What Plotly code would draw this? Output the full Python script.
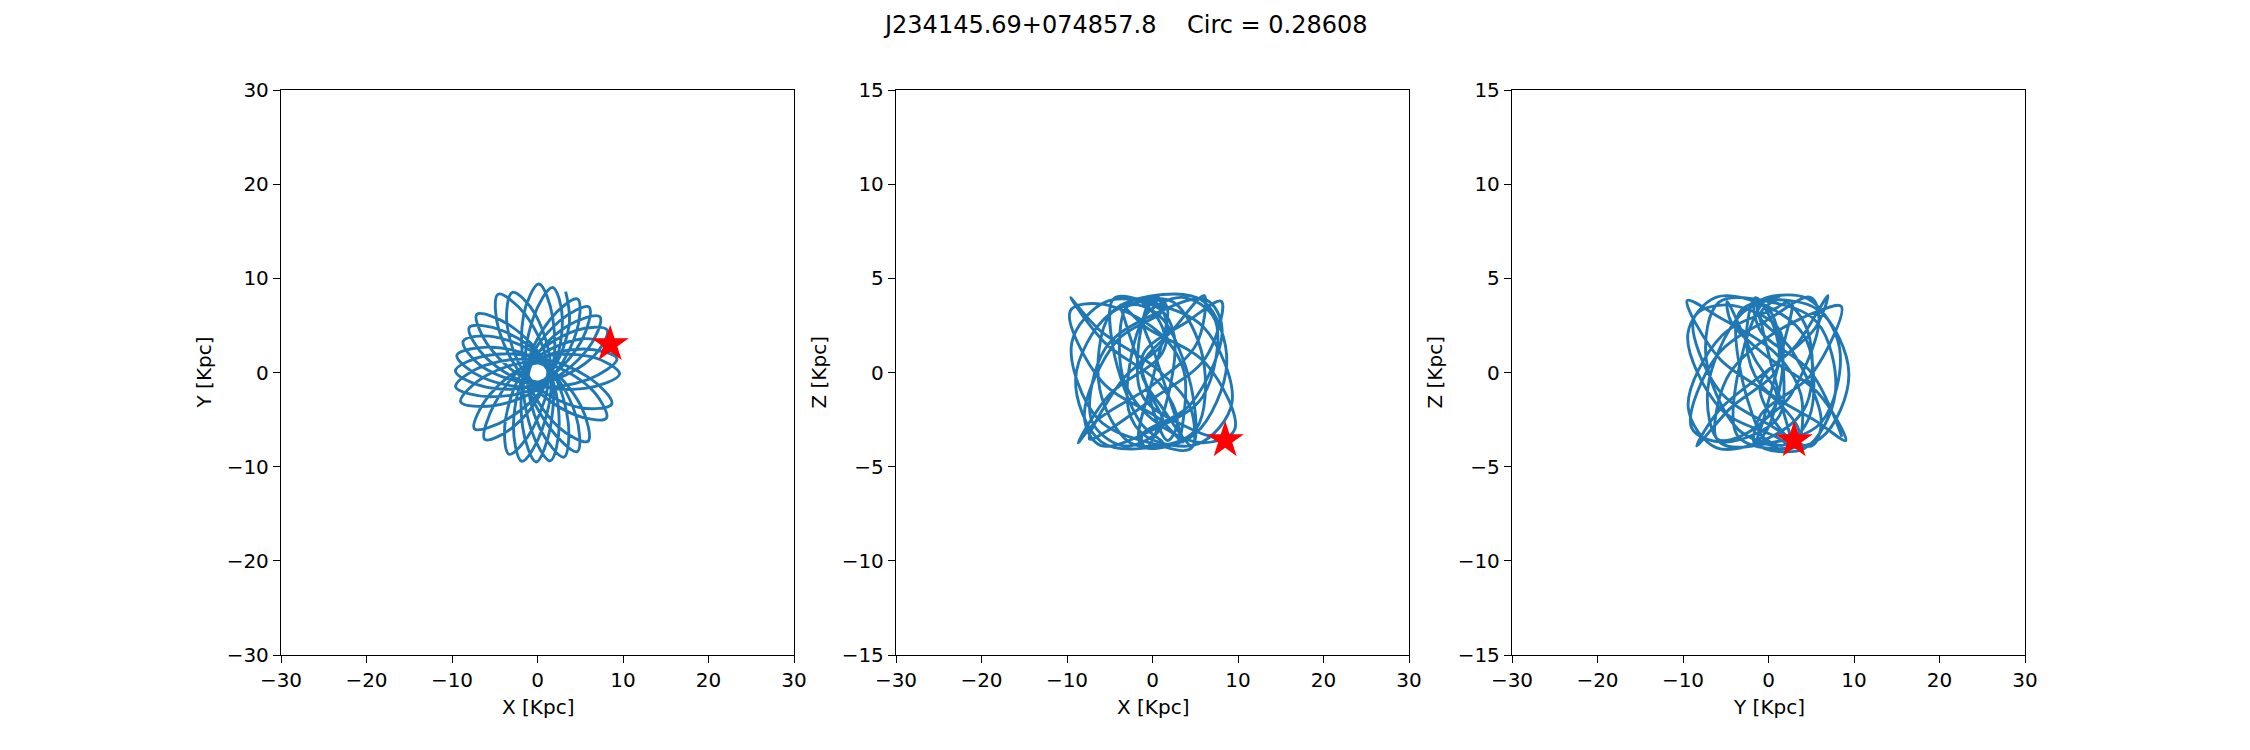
import plotly.graph_objects as go

# Orbit samples (kpc)
x_kpc = [8.5, 5.08, -0.97, -1.75,
         -0.16, 1.53, 1.16, -5.03,
         -8.69, -6.37, 0.24, 5.12,
         6.04, 2.54, -1.29, 1.33,
         4.66, 4.45, 0.48, -6.16,
         -9.58, -5.53, 0.90, 2.91,
         1.76, -0.50, -1.10, 4.09,
         8.06, 6.18, -0.07, -5.62,
         -7.38, -3.44, 1.35, -0.33,
         -2.93, -3.56, -0.65, 5.54,
         9.60, 6.28, -0.73, -3.73,
         -3.33, -0.51, 1.16, -3.27,
         -7.10, -5.53, -0.11, 6.23,
         8.14, 4.45, -1.26, -0.74,
         1.48, 2.54, 0.79, -5.26,
         -9.43, -6.37, 0.53, 4.53,
         4.69, 1.53, -1.20, 2.46,
         5.91, 5.08, 0.28, -5.99,
         -8.99, -5.00, 1.13, 1.78,
         0.16, -1.63, -0.91, 4.95,
         8.69, 5.98, -0.31, -4.95,
         -6.17, -2.62, 1.19, -1.42,
         -4.61, -4.52, -0.57, 5.96,
         9.29, 5.35, -0.76, -2.81,
         -1.83, 0.53, 1.28, -4.16,
         -7.97, -6.09, 0.08, 5.89,
         7.30, 3.44, -0.96, 0.31,
         3.10, 3.56, 0.76, -5.93,
         -9.60, -5.89, 0.61, 3.67,
         3.29]

y_kpc = [3.0, 3.56, 0.71, -5.74,
         -9.50, -5.70, 0.78, 3.79,
         3.33, 0.56, -0.97, 3.32,
         6.95, 5.44, 0.14, -5.75,
         -8.40, -4.45, 0.99, 0.76,
         -1.51, -2.58, -0.93, 5.70,
         9.03, 5.78, -0.49, -4.39,
         -4.84, -1.66, 1.00, -2.39,
         -5.98, -4.91, -0.39, 6.29,
         8.51, 5.08, -0.89, -1.69,
         -0.16, 1.68, 1.08, -4.95,
         -8.69, -5.88, 0.29, 5.03,
         6.17, 2.58, -1.00, 1.44,
         4.51, 4.45, 0.61, -6.06,
         -9.39, -5.44, 0.76, 2.68,
         1.83, -0.56, -1.19, 4.23,
         7.80, 5.70, -0.08, -5.80,
         -7.30, -3.56, 0.96, -0.31,
         -3.10, -3.50, -0.82, 5.83,
         9.40, 6.09, -0.61, -3.73,
         -3.33, -0.52, 1.26, -3.22,
         -7.10, -5.62, -0.13, 6.14,
         8.31, 4.52, -1.17, -0.73,
         1.47, 2.50, 0.79, -5.52,
         -9.43, -6.08, 0.57, 4.46,
         4.79, 1.63, -1.20, 2.50,
         5.91, 4.91, 0.28, -5.99,
         -8.99, -5.08, 1.05, 1.81,
         0.17, -1.58, -0.91, 4.87,
         8.59]

z_kpc = [-3.6, -3.12, -1.40, 0.74,
         3.82, 2.92, 1.04, -1.17,
         -3.73, -2.49, -0.59, 1.49,
         4.08, 2.35, 0.21, -1.99,
         -3.90, -1.89, 0.20, 2.24,
         3.97, 1.56, -0.63, -2.62,
         -3.61, -1.08, 0.96, 2.71,
         3.78, 0.76, -1.43, -3.19,
         -3.53, -0.34, 1.77, 3.34,
         3.51, -0.07, -2.23, -3.72,
         -3.04, 0.46, 2.39, 3.59,
         2.92, -0.90, -2.83, -3.90,
         -2.56, 1.27, 3.03, 3.87,
         2.29, -1.69, -3.35, -4.00,
         -1.84, 1.96, 3.39, 3.79,
         1.60, -2.47, -3.83, -4.02,
         -1.14, 2.66, 3.77, 3.73,
         0.76, -3.02, -3.95, -3.68,
         -0.33, 3.11, 3.79, 3.32,
         -0.07, -3.50, -3.99, -3.28,
         0.50, 3.77, 4.05, 3.09,
         -0.88, -3.73, -3.77, -2.66,
         1.30, 3.93, 3.73, 2.41,
         -1.61, -3.79, -3.39, -1.96,
         2.06, 4.00, 3.35, 1.69,
         -2.35, -3.87, -3.03, -1.27,
         2.80, 3.99, 2.90, 0.92,
         -2.94, -3.69, -2.45, -0.48,
         3.28, 3.63, 2.18, 0.07,
         -3.41]

star_x = [8.5]
star_y = [3.0]
star_z = [-3.6]

title_text = "J234145.69+074857.8    Circ = 0.28608"
xy_ticks = [-30, -20, -10, 0, 10, 20, 30]
z_ticks = [-15, -10, -5, 0, 5, 10, 15]

W, H = 2250, 750
LINE_COLOR = "#1f77b4"
FONT = "DejaVu Sans, Verdana, sans-serif"

# panel pixel geometry
panel_left = [281, 896, 1512]
panel_w = 513
top_px, bot_px = 90, 655

fig = go.Figure()

panels = [
    (x_kpc, y_kpc, star_x, star_y, "X [Kpc]", "Y [Kpc]", [-30, 30], xy_ticks),
    (x_kpc, z_kpc, star_x, star_z, "X [Kpc]", "Z [Kpc]", [-15, 15], z_ticks),
    (y_kpc, z_kpc, star_y, star_z, "Y [Kpc]", "Z [Kpc]", [-15, 15], z_ticks),
]

annotations = []
for i, (hx, vy, sx, sy, xl, yl, yr, yt) in enumerate(panels):
    n = "" if i == 0 else str(i + 1)
    fig.add_trace(go.Scatter(
        x=hx, y=vy, mode="lines",
        line=dict(color=LINE_COLOR, width=2.9, shape="spline", smoothing=1.0),
        xaxis="x" + n, yaxis="y" + n, showlegend=False, hoverinfo="skip"))
    fig.add_trace(go.Scatter(
        x=sx, y=sy, mode="markers",
        marker=dict(symbol="star", size=28, color="red", line=dict(width=0)),
        xaxis="x" + n, yaxis="y" + n, showlegend=False, hoverinfo="skip"))
    x0 = panel_left[i] / W
    x1 = (panel_left[i] + panel_w) / W
    common = dict(showline=True, linecolor="black", linewidth=1.3, mirror=True,
                  ticks="outside", ticklen=7, tickwidth=1.3, tickcolor="black",
                  showgrid=False, zeroline=False, automargin=False,
                  tickfont=dict(family=FONT, size=20, color="black"))
    fig.update_layout(**{
        "xaxis" + n: dict(domain=[x0, x1], range=[-30, 30], tickmode="array",
                          tickvals=xy_ticks, anchor="y" + n, **common),
        "yaxis" + n: dict(domain=[1 - bot_px / H, 1 - top_px / H], range=yr,
                          tickmode="array", tickvals=yt, anchor="x" + n, **common),
    })
    annotations.append(dict(text=xl, x=(panel_left[i] + panel_w / 2) / W, y=1 - 707 / H,
                            xref="paper", yref="paper", showarrow=False,
                            xanchor="center", yanchor="middle",
                            font=dict(family=FONT, size=20, color="black")))
    annotations.append(dict(text=yl, x=(panel_left[i] - 77) / W, y=1 - 372.5 / H,
                            xref="paper", yref="paper", showarrow=False, textangle=-90,
                            xanchor="center", yanchor="middle",
                            font=dict(family=FONT, size=20, color="black")))

annotations.append(dict(text=title_text, x=0.5, y=1 - 25 / H, xref="paper", yref="paper",
                        showarrow=False, xanchor="center", yanchor="middle",
                        font=dict(family=FONT, size=24, color="black")))

fig.update_layout(width=W, height=H, margin=dict(l=0, r=0, t=0, b=0, autoexpand=False),
                  paper_bgcolor="white", plot_bgcolor="white",
                  annotations=annotations, showlegend=False)

fig.write_html("out.html")
